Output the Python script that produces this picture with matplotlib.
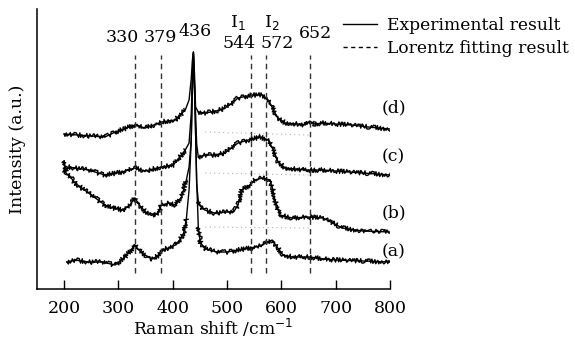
import matplotlib
matplotlib.use("Agg")
import matplotlib.pyplot as plt
from matplotlib.lines import Line2D
import numpy as np

# ---------------- data ----------------
wn_a = [205, 220, 245, 270, 294, 312, 322, 330, 336, 343, 352, 362, 372, 379, 392, 405, 414, 420, 425,
        430, 434, 436, 438, 441, 444, 447, 451, 461, 480, 500, 520, 544, 560, 572, 583, 592, 603, 620,
        652, 680, 700, 750, 800]
int_a = [27, 29, 27, 27, 24, 32, 38, 44, 40, 36, 33, 30, 33, 39, 41, 44, 50, 56, 70,
         99, 149, 199, 237, 182, 109, 62, 46, 40, 37, 37, 39, 41, 43, 46, 49, 42, 34, 32,
         32, 30, 29, 28, 27]

wn_b = [200, 205, 210, 220, 235, 245, 260, 275, 290, 307, 320, 330, 340, 350, 368, 375, 379, 395, 404,
        416, 425, 430, 434, 436, 438, 441, 444, 447, 452, 459, 476, 500, 512, 520, 527, 542, 551, 565, 579,
        584, 588, 597, 620, 649, 677, 712, 750, 800]
int_b = [119, 115, 113, 106, 100, 96, 90, 84, 81, 79, 83, 91, 83, 77, 74, 78, 84, 86, 84,
         92, 109, 122, 149, 199, 235, 182, 105, 88, 82, 79, 76, 77, 77, 84, 99, 104, 109, 111, 109,
         100, 89, 74, 71, 72, 71, 61, 58, 57]

wn_c = [200, 203, 207, 245, 275, 307, 330, 349, 379, 401, 423, 430, 434, 436, 438, 441, 444, 447,
        459, 476, 496, 520, 539, 561, 576, 585, 594, 607, 644, 677, 700, 750, 800]
int_c = [128, 118, 122, 119, 114, 117, 121, 118, 122, 124, 139, 146, 175, 210, 236, 190, 145, 132,
         134, 134, 136, 146, 149, 152, 149, 139, 127, 121, 119, 119, 118, 116, 114]

wn_d = [200, 225, 250, 275, 294, 310, 330, 349, 365, 379, 404, 423, 430, 434, 436, 438, 440, 442, 447,
        460, 480, 496, 510, 520, 546, 566, 579, 592, 607, 630, 644, 652, 660, 677, 700, 730, 760, 800]
int_d = [155, 154, 153, 152, 157, 160, 164, 161, 164, 167, 169, 179, 189, 210, 228, 237, 215, 182, 177,
         176, 178, 181, 186, 191, 194, 194, 186, 172, 166, 165, 164, 168, 165, 166, 165, 164, 162, 160]

# Lorentz fitting traces (faint, mostly hidden under the spectra)
fit_wn = [460, 650]
fit_b = [62, 61]
fit_c = [116, 114]
fit_d = [157, 154]

peak_positions = [330, 379, 544, 572, 652]
peak_labels = ["330", "379", "436", "544", "572", "652"]
curve_labels = ["(a)", "(b)", "(c)", "(d)"]
xticks = [200, 300, 400, 500, 600, 700, 800]

# ---------------- figure ----------------
plt.rcParams['font.family'] = ['DejaVu Serif']
fig = plt.figure(figsize=(5.75, 3.39), dpi=100)
ax = fig.add_axes([37/575, 50/339, 353/575, 280/339])
ax.set_xlim(150, 800)
ax.set_ylim(0, 280)

PEAK_LO, PEAK_HI = 427, 446
for wn, val in [(wn_a, int_a), (wn_b, int_b), (wn_c, int_c), (wn_d, int_d)]:
    w = np.asarray(wn)
    v = np.asarray(val)
    # clean trace (keeps the sharp 436 peak thin)
    ax.plot(w, v, color='black', lw=1.0)
    # noisy overlay away from the sharp peak
    for m in (w <= PEAK_LO, w >= PEAK_HI):
        ln, = ax.plot(w[m], v[m], color='black', lw=1.0)
        ln.set_sketch_params(scale=2.3, length=1.3, randomness=3)

for fy in [fit_b, fit_c, fit_d]:
    ax.plot(fit_wn, fy, color='#b0b0b0', lw=0.8, ls=(0, (1, 3)))

for p in peak_positions:
    ax.plot([p, p], [16, 234], color='#333333', lw=1.0, ls=(0, (4, 3)))

fs = 12.5
# peak labels (positions in data units)
lab_pos = [(307.7, 252), (376.7, 252), (441, 257), (522, 245), (592, 245), (662, 256)]
for t, (x, y) in zip(peak_labels, lab_pos):
    ax.text(x, y, t, ha='center', va='center', fontsize=fs, clip_on=False)
ax.text(520, 266, "I$_1$", ha='center', va='center', fontsize=fs, clip_on=False)
ax.text(583, 266, "I$_2$", ha='center', va='center', fontsize=fs, clip_on=False)

for t, y in zip(curve_labels, [37, 76, 132, 181]):
    ax.text(785, y, t, ha='left', va='center', fontsize=fs, clip_on=False)

ax.spines['top'].set_visible(False)
ax.spines['right'].set_visible(False)
ax.spines['left'].set_linewidth(1.1)
ax.spines['bottom'].set_linewidth(1.1)
ax.set_yticks([])
ax.set_xticks(xticks)
ax.tick_params(axis='x', direction='in', length=6.5, width=1.0, pad=8, labelsize=fs)
ax.set_xlabel("Raman shift /cm$^{-1}$", fontsize=12.3, labelpad=0)
ax.set_ylabel("Intensity (a.u.)", fontsize=fs, labelpad=8)

handles = [Line2D([], [], color='black', lw=1.0),
           Line2D([], [], color='black', lw=1.0, ls=(0, (3, 2.5)))]
leg = fig.legend(handles, ["Experimental result", "Lorentz fitting result"],
                 loc='upper left', bbox_to_anchor=(343/575, 1 - 17/339), frameon=False,
                 fontsize=12.3, handlelength=2.0, handletextpad=0.55, labelspacing=0.35,
                 borderaxespad=0, borderpad=0)

fig.savefig("out.png", dpi=100)
